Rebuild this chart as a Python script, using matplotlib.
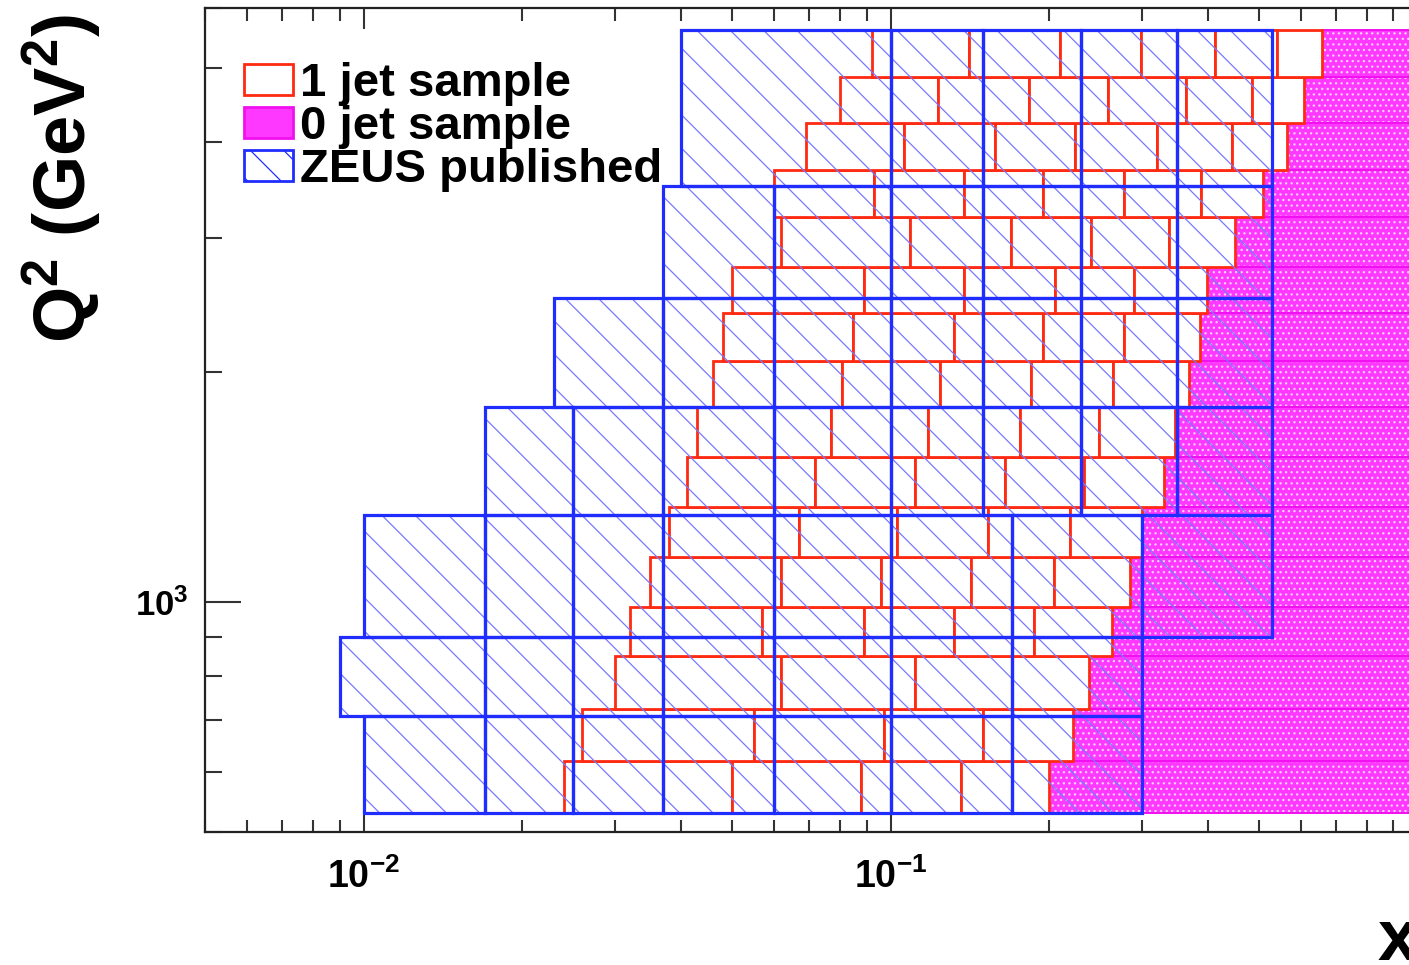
import matplotlib
matplotlib.use('Agg')
import matplotlib.pyplot as plt
from matplotlib.patches import Patch
from matplotlib.ticker import NullFormatter
import numpy as np

plt.rcParams['font.family'] = ['Liberation Sans', 'DejaVu Sans']
plt.rcParams['font.weight'] = 'bold'
plt.rcParams['axes.labelweight'] = 'bold'
plt.rcParams['mathtext.fontset'] = 'custom'
plt.rcParams['mathtext.rm'] = 'Liberation Sans:bold'
plt.rcParams['mathtext.it'] = 'Liberation Sans:bold'
plt.rcParams['mathtext.bf'] = 'Liberation Sans:bold'
plt.rcParams['mathtext.default'] = 'rm'
plt.rcParams['hatch.linewidth'] = 0.9

# ZEUS published bins: Q2 row edges and the x edges inside each row
zeus_q2 = [530, 710, 900, 1300, 1800, 2500, 3500, 5600]
zeus_x = [
    [0.01, 0.017, 0.025, 0.037, 0.06, 0.1, 0.17, 0.3],
    [0.009, 0.017, 0.025, 0.037, 0.06, 0.1, 0.17, 0.3],
    [0.01, 0.017, 0.025, 0.037, 0.06, 0.1, 0.17, 0.3, 0.53],
    [0.017, 0.025, 0.037, 0.06, 0.1, 0.15, 0.23, 0.35, 0.53],
    [0.023, 0.037, 0.06, 0.1, 0.15, 0.23, 0.35, 0.53],
    [0.037, 0.06, 0.1, 0.15, 0.23, 0.35, 0.53],
    [0.04, 0.1, 0.15, 0.23, 0.35, 0.53],
]

# 1 jet sample bins
jet1_q2 = [530, 620, 725, 850, 985, 1145, 1330, 1550, 1800,
           2070, 2390, 2745, 3190, 3675, 4235, 4865, 5600]
jet1_x = [
    [0.024, 0.050, 0.088, 0.136, 0.200],
    [0.026, 0.055, 0.097, 0.150, 0.222],
    [0.030, 0.062, 0.111, 0.170, 0.238],
    [0.032, 0.057, 0.089, 0.132, 0.187, 0.263],
    [0.035, 0.062, 0.096, 0.142, 0.204, 0.285],
    [0.038, 0.067, 0.103, 0.153, 0.219, 0.300],
    [0.041, 0.072, 0.111, 0.165, 0.233, 0.330],
    [0.043, 0.077, 0.118, 0.176, 0.249, 0.346],
    [0.046, 0.081, 0.124, 0.185, 0.264, 0.368],
    [0.048, 0.085, 0.132, 0.195, 0.277, 0.386],
    [0.050, 0.089, 0.138, 0.205, 0.290, 0.398],
    [0.062, 0.109, 0.169, 0.240, 0.338, 0.450],
    [0.060, 0.093, 0.138, 0.195, 0.277, 0.388, 0.510],
    [0.069, 0.106, 0.158, 0.224, 0.320, 0.444, 0.564],
    [0.080, 0.123, 0.183, 0.259, 0.363, 0.486, 0.608],
    [0.092, 0.141, 0.210, 0.298, 0.412, 0.540, 0.660],
]

# 0 jet sample: rest of each 1 jet row up to x = 1
jet0_xmax = 1.0

legend_labels = ['1 jet sample', '0 jet sample', 'ZEUS published']
x_ticks = [0.01, 0.1, 1.0]
x_tick_labels = ['10$^{-2}$', '10$^{-1}$', '1']
y_ticks = [1000]
y_tick_labels = ['10$^{3}$']

red = '#ff2a12'
blue = '#1f2dff'
hatch_blue = '#7878ff'
magenta = '#ff38ff'
magenta_edge = '#f010f0'
dots = '#ffd0ff'

fig = plt.figure(figsize=(14.09, 9.65), dpi=100)
ax = fig.add_axes([0.1455, 0.1378, 0.8606, 0.8544])
ax.set_xscale('log')
ax.set_yscale('log')

for i in range(len(jet1_x)):
    lo, hi = jet1_q2[i], jet1_q2[i + 1]
    start = jet1_x[i][-1]
    # 0 jet sample
    ax.bar(start, hi - lo, width=jet0_xmax - start, bottom=lo, align='edge',
           color=magenta, edgecolor=dots, hatch='...', linewidth=0, zorder=1)
    ax.bar(start, hi - lo, width=jet0_xmax - start, bottom=lo, align='edge',
           fill=False, edgecolor=magenta_edge, linewidth=1.4, zorder=1.1)
    # 1 jet sample
    edges = np.array(jet1_x[i])
    ax.bar(edges[:-1], hi - lo, width=np.diff(edges), bottom=lo, align='edge',
           facecolor='white', edgecolor=red, linewidth=2.0, zorder=2)

for i in range(len(zeus_x)):
    lo, hi = zeus_q2[i], zeus_q2[i + 1]
    edges = np.array(zeus_x[i])
    ax.bar(edges[:-1], hi - lo, width=np.diff(edges), bottom=lo, align='edge',
           fill=False, edgecolor=hatch_blue, hatch='\\', linewidth=0, zorder=3)
    ax.bar(edges[:-1], hi - lo, width=np.diff(edges), bottom=lo, align='edge',
           fill=False, edgecolor=blue, linewidth=2.3, zorder=4)

ax.set_xlim(0.005, 1.0)
ax.set_ylim(500, 6000)
ax.set_xticks(x_ticks)
ax.set_xticklabels(x_tick_labels)
ax.set_yticks(y_ticks)
ax.set_yticklabels(y_tick_labels)
ax.xaxis.set_minor_formatter(NullFormatter())
ax.yaxis.set_minor_formatter(NullFormatter())

ax.tick_params(which='both', direction='in', top=True, right=False,
               width=1.5, color='#333333')
ax.tick_params(axis='y', which='major', length=26, pad=12, labelsize=25)
ax.tick_params(axis='y', which='minor', length=12)
ax.tick_params(axis='x', which='major', length=15, pad=19, labelsize=27)
ax.tick_params(axis='x', which='minor', length=9)
for s in ax.spines.values():
    s.set_linewidth(1.6)
    s.set_color('#222222')

ax.set_ylabel('Q$^{2}$ (GeV$^{2}$)', fontsize=52, fontweight='bold', loc='top')
ax.yaxis.set_label_coords(-0.084, 0.992)
ax.set_xlabel('x', fontsize=52, fontweight='bold', loc='right')
ax.xaxis.set_label_coords(1.0, -0.091)

handles = [
    Patch(facecolor='white', edgecolor=red, linewidth=2),
    Patch(facecolor=magenta, edgecolor=magenta_edge, linewidth=2),
    Patch(facecolor='white', edgecolor=blue, hatch='\\', linewidth=2),
]
leg = ax.legend(handles, legend_labels, loc='upper left',
                bbox_to_anchor=(0.032, 0.934), frameon=False,
                prop={'size': 34, 'weight': 'bold'}, handlelength=1.05,
                handleheight=0.65, handletextpad=0.15, labelspacing=-0.02,
                borderpad=0, borderaxespad=0)
leg.set_zorder(10)

fig.savefig('out.png', dpi=100)
